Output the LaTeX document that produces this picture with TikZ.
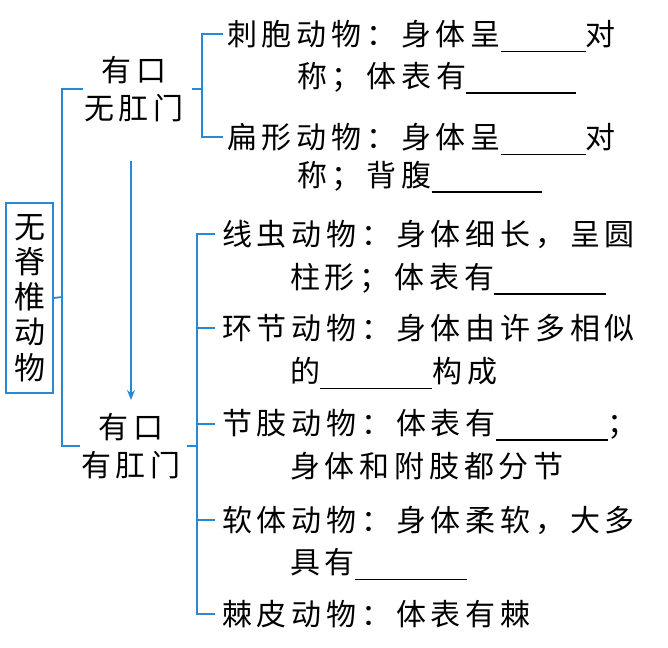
\documentclass[tikz,border=0pt]{standalone}
\usepackage{fontspec}
\setmainfont{Noto Sans CJK SC}[LetterSpace=16]
\usetikzlibrary{arrows.meta}
\definecolor{brblue}{RGB}{41,136,214}
\newcommand{\blankline}[1]{\smash{\rule[-6.5pt]{#1pt}{1.3pt}}}
\begin{document}
\begin{tikzpicture}[x=1pt,y=-1pt,
  br/.style={brblue, line width=1.8pt},
  txt/.style={inner sep=0pt, anchor=west, font=\fontsize{30pt}{36pt}\selectfont},
  lbl/.style={inner sep=0pt, align=center, font=\fontsize{30pt}{38pt}\selectfont},
  rootbox/.style={draw=brblue, line width=1.8pt, minimum width=47pt, minimum height=190pt,
    inner sep=0pt, align=center, font=\fontsize{31pt}{35.25pt}\selectfont}]
\useasboundingbox (0,0) rectangle (668,647);

\node[rootbox] (root) at (29.5,298) {无\\脊\\椎\\动\\物};
\node[lbl] (A) at (134,89) {有口\\无肛门};
\node[lbl] (B) at (131,446) {有口\\有肛门};

\node[txt] (i1a) at (227,34) {刺胞动物：身体呈\blankline{85}对};
\node[txt] (i1b) at (297,77) {称；体表有\blankline{110}};
\node[txt] (i2a) at (227,137) {扁形动物：身体呈\blankline{85}对};
\node[txt] (i2b) at (297,176) {称；背腹\blankline{110}};
\node[txt] (i3a) at (222,234) {线虫动物：身体细长，呈圆};
\node[txt] (i3b) at (290,278) {柱形；体表有\blankline{112}};
\node[txt] (i4a) at (222,328) {环节动物：身体由许多相似};
\node[txt] (i4b) at (290,371) {的\blankline{112}构成};
\node[txt] (i5a) at (222,424) {节肢动物：体表有\blankline{112}；};
\node[txt] (i5b) at (290,466) {身体和附肢都分节};
\node[txt] (i6a) at (222,520) {软体动物：身体柔软，大多};
\node[txt] (i6b) at (290,562) {具有\blankline{112}};
\node[txt] (i7a) at (222,614) {棘皮动物：体表有棘};

% root bracket
\coordinate (j0) at (62,297);
\draw[br] (root.east) -- (j0);
\draw[br] ([xshift=-1pt]A.west) -| (j0);
\draw[br] ([xshift=-1pt]B.west) -| (j0);

% bracket of A
\draw[br] ([xshift=8pt]A.east) -- ++(10,0) coordinate (jA);
\draw[br] ([xshift=-4pt]i1a.west) -| (jA) |- ([xshift=-4pt]i2a.west);

% bracket of B
\draw[br] ([xshift=6pt]B.east) -- ++(10,0) coordinate (jB);
\draw[br] ([xshift=-7pt]i3a.west) -| (jB) |- ([xshift=-7pt]i7a.west);
\draw[br] (jB |- i4a.west) -- ([xshift=-7pt]i4a.west);
\draw[br] (jB |- i5a.west) -- ([xshift=-7pt]i5a.west);
\draw[br] (jB |- i6a.west) -- ([xshift=-7pt]i6a.west);

% arrow
\draw[brblue, line width=1.4pt, -{Stealth[length=10pt,width=8pt]},
  shorten <=39pt, shorten >=13pt] (A.south -| B.north) -- (B.north);
\end{tikzpicture}
\end{document}
